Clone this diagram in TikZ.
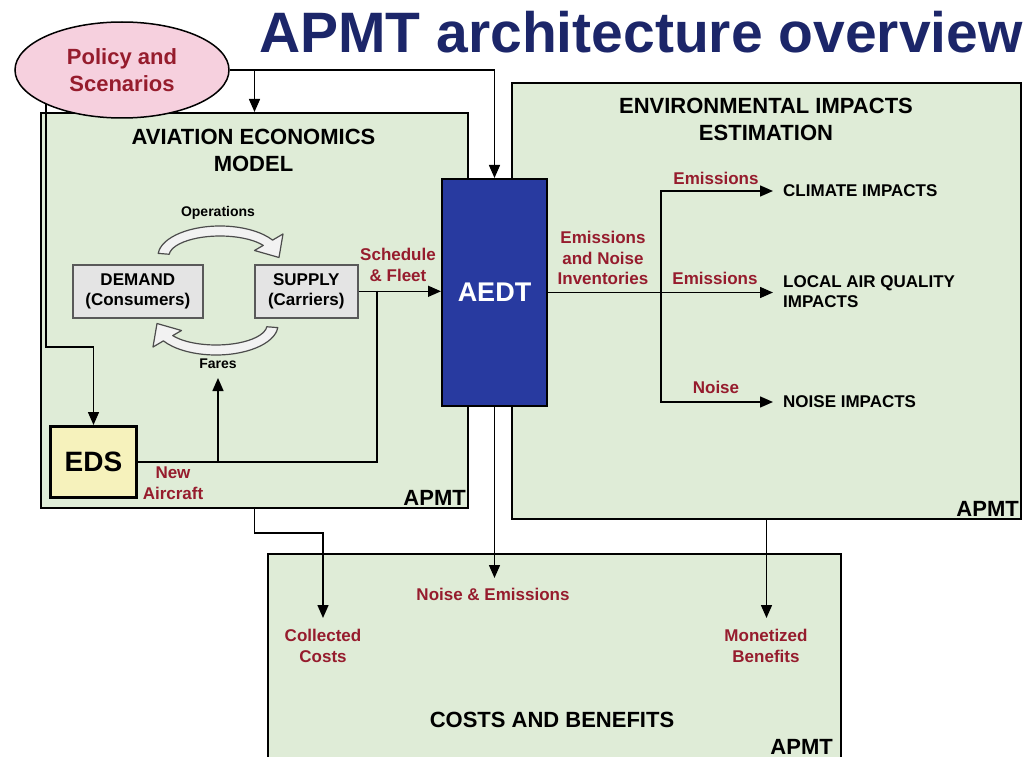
\documentclass[tikz,border=0pt]{standalone}
\usepackage{fontspec}
\setmainfont{Liberation Sans}
\usetikzlibrary{arrows.meta,shapes.geometric}

\definecolor{panelgreen}{RGB}{223,236,215}
\definecolor{labelred}{RGB}{150,28,45}
\definecolor{titleblue}{RGB}{28,38,105}
\definecolor{aedtblue}{RGB}{40,58,160}
\definecolor{policypink}{RGB}{246,208,222}
\definecolor{edsyellow}{RGB}{246,242,188}
\definecolor{partygray}{RGB}{228,228,228}

\tikzset{
  looparrow/.pic={
    \filldraw[draw=black!70, fill=black!5, line width=1.2pt, line join=round]
      (185:62 and 30) arc[start angle=185, end angle=328, x radius=62, y radius=30]
      -- (63,-22) -- (59,1.5) -- (34.5,-5.5) -- (328:51 and 20)
      arc[start angle=328, end angle=185, x radius=51, y radius=20] -- cycle;
  }
}

\begin{document}
\begin{tikzpicture}[x=1pt, y=-1pt, font=\bfseries,
    panel/.style={draw, line width=2pt, fill=panelgreen, anchor=north west},
    heading/.style={font=\fontsize{22}{27}\selectfont\bfseries, align=center},
    tag/.style={font=\fontsize{22}{26}\selectfont\bfseries, anchor=south east, inner sep=3pt},
    flowlabel/.style={text=labelred, font=\fontsize{17}{20.5}\selectfont\bfseries, align=center, inner sep=0pt},
    impact/.style={font=\fontsize{17}{20}\selectfont\bfseries, align=left, anchor=west, inner xsep=10pt, inner ysep=0pt},
    cyclelabel/.style={font=\fontsize{14}{16}\selectfont\bfseries},
    party/.style={draw=black!65, line width=1.6pt, fill=partygray, align=center, anchor=north west,
      font=\fontsize{17}{20}\selectfont\bfseries, minimum width=130pt, minimum height=53pt},
    link/.style={line width=1.5pt},
    flow/.style={link, -{Triangle[length=13pt, width=11pt]}}]

    \clip (0,0) rectangle (1034,757);

    % panels
    \node[panel, minimum width=427pt, minimum height=395pt] (aem) at (40,112) {};
    \node[panel, minimum width=509pt, minimum height=436pt] (env) at (511,82) {};
    \node[panel, minimum width=573pt, minimum height=240pt] (costs) at (267,553) {};

    \node[text=titleblue, font=\fontsize{57}{60}\selectfont\bfseries, anchor=base] (title) at (641,53) {APMT architecture overview};

    \node[ellipse, draw, line width=1.5pt, fill=policypink, text=labelred, font=\fontsize{22}{27}\selectfont\bfseries,
      align=center, minimum width=214pt, minimum height=96pt, inner sep=0pt] (policy) at (122,70) {Policy and\\Scenarios};

    \node[draw, line width=2pt, fill=aedtblue, text=white, font=\fontsize{27}{30}\selectfont\bfseries,
      anchor=north west, minimum width=105pt, minimum height=227pt] (aedt) at (441,178) {AEDT};
    \node[draw, line width=3pt, fill=edsyellow, font=\fontsize{28}{30}\selectfont\bfseries,
      anchor=north west, minimum width=86pt, minimum height=71pt] (eds) at (49,425) {EDS};
    \node[party] (demand) at (72,264) {DEMAND\\(Consumers)};
    \node[party, minimum width=103pt] (supply) at (254,264) {SUPPLY\\(Carriers)};

    \node[heading] (aemtitle) at (253.5,150.5) {AVIATION ECONOMICS\\MODEL};
    \node[heading] (envtitle) at (766,119) {ENVIRONMENTAL IMPACTS\\ESTIMATION};
    \node[heading] (coststitle) at (552,720) {COSTS AND BENEFITS};
    \node[tag] (aemtag) at (aem.south east) {APMT};
    \node[tag] (envtag) at (env.south east) {APMT};
    \node[tag, anchor=base east] (coststag) at (836,754) {APMT};

    % operations / fares loop
    \pic (operations) at (220,256) {looparrow};
    \pic[rotate=180] (fares) at (216,325) {looparrow};
    \node[cyclelabel] (opslabel) at (218,213) {Operations};
    \node[cyclelabel] (fareslabel) at (218,364) {Fares};

    \node[impact] (climate) at (773,191) {CLIMATE IMPACTS};
    \node[impact] (localaq) at (773,292) {LOCAL AIR QUALITY\\IMPACTS};
    \node[impact] (noise) at (773,402) {NOISE IMPACTS};

    % connectors
    \coordinate (edsbend) at (92,347);
    \coordinate (faresin) at (218,378);
    \coordinate (fleetdrop) at (377,290.5);
    \coordinate (fork) at (661,291.5);
    \coordinate (nein) at (493.5,578);
    \coordinate (costbend) at (323,533);
    \coordinate (costin) at (323,618);
    \coordinate (benefitin) at (765.5,618);

    \draw[flow] (policy.east) -| (aedt.north);
    \draw[flow] (aem.north |- policy.east) -- (aem.north);
    \draw[flow] (policy.south west) |- (eds.north |- edsbend) -- (eds.north);
    \draw[flow] (supply.east) -- (aedt.west |- supply.east);
    \draw[link] (fleetdrop) |- (eds.east);
    \draw[flow] (faresin |- eds.east) -- (faresin);
    \draw[flow] (aedt.east) -- (aedt.east -| localaq.west);
    \draw[flow] (fork) |- (climate.west);
    \draw[flow] (fork) |- (noise.west);
    \draw[flow] (aedt.south) -- (aedt.south |- nein);
    \draw[flow] (aem.south) |- (costbend) -- (costin);
    \draw[flow] (env.south) -- (env.south |- benefitin);

    % flow labels
    \node[flowlabel] (schedlabel) at (398,265) {Schedule\\\& Fleet};
    \node[flowlabel] (newaircraft) at (173,483) {New\\Aircraft};
    \node[flowlabel] (inventory) at (603,258) {Emissions\\and Noise\\Inventories};
    \node[flowlabel] (climemis) at (716,178) {Emissions};
    \node[flowlabel] (laqemis) at (715,278) {Emissions};
    \node[flowlabel] (noiselabel) at (716,387) {Noise};
    \node[flowlabel] (nelabel) at (493,594) {Noise \& Emissions};
    \node[flowlabel] (collected) at (323,646) {Collected\\Costs};
    \node[flowlabel] (monetized) at (766,646) {Monetized\\Benefits};
\end{tikzpicture}
\end{document}
